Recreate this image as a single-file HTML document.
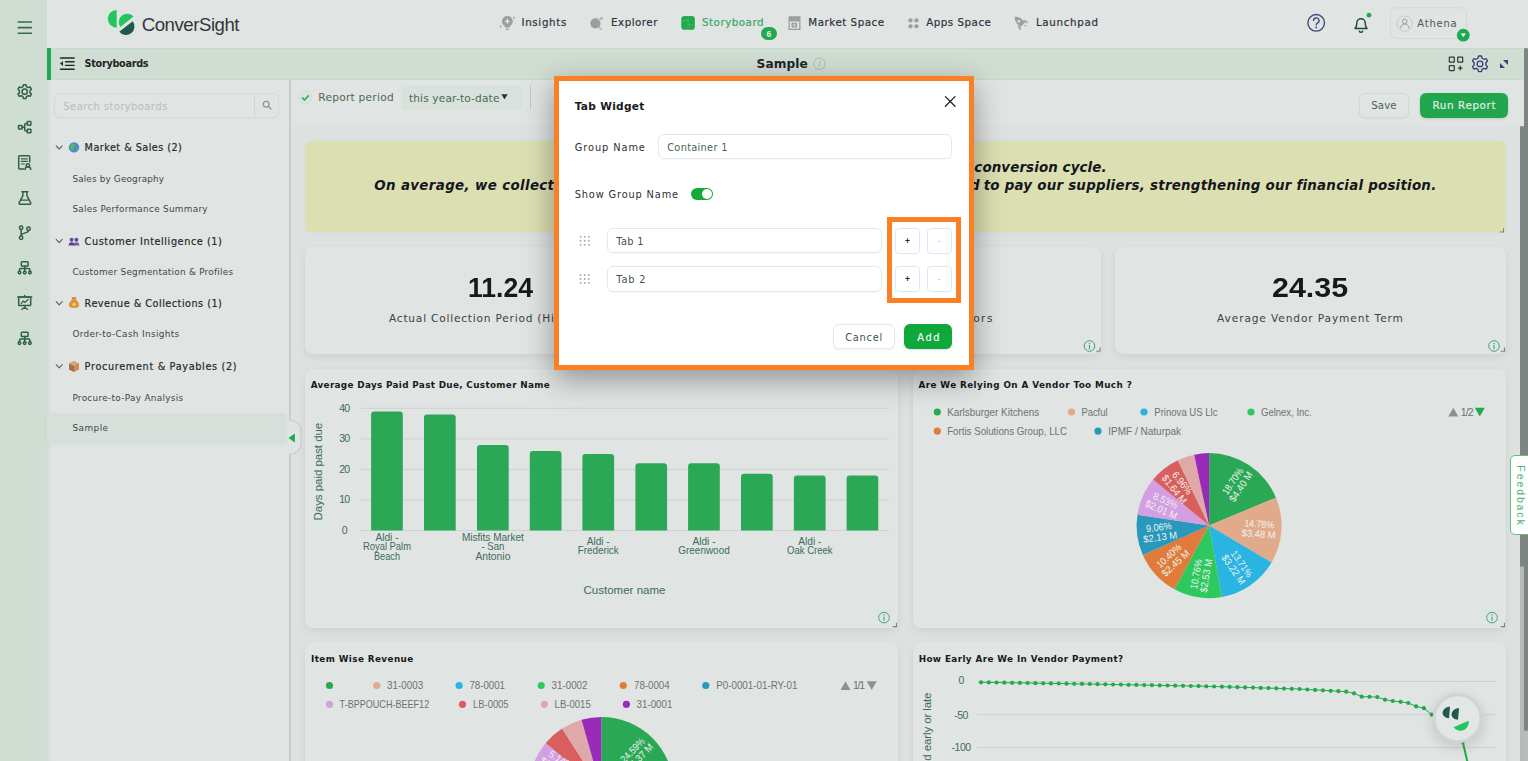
<!DOCTYPE html>
<html lang="en">
<head>
<meta charset="utf-8">
<title>ConverSight - Storyboard - Sample</title>
<style>
*{box-sizing:border-box;margin:0;padding:0}
html,body{width:1528px;height:761px;overflow:hidden}
body{position:relative;background:#dde1df;font-family:"Liberation Sans",sans-serif;color:#2d3136;font-size:12px}
.a{position:absolute}
.t{position:absolute;white-space:pre;line-height:1;height:1em}
svg{position:absolute;overflow:visible}
#rail{left:0;top:0;width:47px;height:761px;background:#cfddd3}
#nav{left:47px;top:0;width:1481px;height:48px;background:#e0e4e2}
#sub{left:47px;top:48px;width:1481px;height:32px;background:#d0ddd3;border-top:1px solid #c6d9ca;border-bottom:1px solid #c6d9ca}
#subacc{left:47px;top:48px;width:4px;height:32px;background:#22a94f}
#side{left:47px;top:80px;width:243px;height:681px;background:#e0e4e2;box-shadow:inset 5px 0 5px -4px rgba(0,0,0,.07)}
#tool{left:290px;top:80px;width:1234px;height:46px;background:#e0e4e2}
#content{left:290px;top:126px;width:1230px;height:635px;background:#dde1df}
.card{position:absolute;background:#e0e4e2;border-radius:8px;box-shadow:0 3px 9px rgba(0,0,0,.075)}
.btn{position:absolute;border-radius:6px}
</style>
</head>
<body>
<!-- ===== frame ===== -->
<div id="rail" class="a"></div>
<div id="nav" class="a"></div>
<div id="sub" class="a"></div>
<div id="subacc" class="a"></div>
<div id="side" class="a"></div>
<div id="tool" class="a"></div>
<div id="content" class="a"></div>

<!-- ===== left rail icons ===== -->
<svg style="left:0;top:0" width="47" height="400" viewBox="0 0 47 400" fill="none" stroke="#2f6141" stroke-width="1.5" stroke-linecap="round" stroke-linejoin="round">
  <!-- hamburger -->
  <path d="M18.2 22h13.2M18.2 27.6h13.2M18.2 33.2h13.2" stroke="#3b6a4b" stroke-width="1.6"/>
  <!-- gear -->
  <g transform="translate(24.7 91.7)">
    <circle r="2.6"/>
    <path d="M-1.3-7h2.6l.5 2 1.6.9 2-.6 1.3 2.2-1.5 1.5v1.9l1.5 1.5-1.3 2.2-2-.6-1.6.9-.5 2h-2.6l-.5-2-1.6-.9-2 .6-1.3-2.2 1.5-1.5v-1.9l-1.5-1.5 1.3-2.2 2 .6 1.6-.9z"/>
  </g>
  <!-- org / flow -->
  <g transform="translate(24.7 127.2)">
    <rect x="-6.2" y="-1.8" width="3.6" height="3.6" rx=".6"/>
    <rect x="2.6" y="-5.6" width="3.6" height="3.6" rx=".6"/>
    <rect x="2.6" y="2" width="3.6" height="3.6" rx=".6"/>
    <path d="M-2.6 0h2.6M2.6-3.8h-1.3a1.3 1.3 0 0 0-1.3 1.3v5a1.3 1.3 0 0 0 1.3 1.3h1.3"/>
  </g>
  <!-- document with person -->
  <g transform="translate(24.7 162.4)">
    <path d="M-1 6.6h-4.2a.8.8 0 0 1-.8-.8v-11.6a.8.8 0 0 1 .8-.8h9.4a.8.8 0 0 1 .8.8v5.4"/>
    <path d="M-3.4-3.6h6M-3.4-1h6M-3.4 1.6h3" stroke-width="1.2"/>
    <circle cx="3.2" cy="3" r="1.7"/>
    <path d="M.4 7.2a2.8 2.8 0 0 1 5.6 0"/>
  </g>
  <!-- flask -->
  <g transform="translate(24.9 197.9)">
    <path d="M-3-6.2h6M-2-6.2v4l-3.8 7.2a.9.9 0 0 0 .8 1.3h10a.9.9 0 0 0 .8-1.3l-3.8-7.200v-4"/>
    <path d="M-3.6 2.200h7.2" stroke-width="1.200"/>
  </g>
  <!-- git branch -->
  <g transform="translate(24.700 232.700)">
    <circle cx="-3.6" cy="-5" r="1.700"/><circle cx="-3.6" cy="5" r="1.700"/><circle cx="3.800" cy="-4" r="1.700"/>
    <path d="M-3.600-3.300v6.600M3.800-2.300c0 3-7.400 2-7.400 5.600"/>
  </g>
  <!-- sitemap -->
  <g id="sm" transform="translate(24.700 267.800)">
    <rect x="-3.400" y="-6" width="6.800" height="4.200" rx=".8"/>
    <path d="M0-1.800v2.600M-5.200 3.400v-1.400a1.200 1.200 0 0 1 1.200-1.200h8a1.200 1.200 0 0 1 1.200 1.200v1.400M0 .8v2.600"/>
    <circle cx="-5.200" cy="4.800" r="1.300"/><circle cx="0" cy="4.800" r="1.300"/><circle cx="5.200" cy="4.800" r="1.300"/>
  </g>
  <!-- presentation -->
  <g transform="translate(24.700 302.800)">
    <path d="M-7-5.800h14M0-7.400v1.600"/>
    <rect x="-6" y="-5.800" width="12" height="8.600" rx=".8"/>
    <path d="M0 2.800v1.600M-3 6.600l3-2.200 3 2.200M-3.400.600l2.200-2.400 1.800 1.400 2.800-3" stroke-width="1.300"/>
  </g>
  <!-- sitemap 2 -->
  <g transform="translate(24.700 338.300)">
    <rect x="-3.400" y="-6" width="6.800" height="4.200" rx=".8"/>
    <path d="M0-1.800v2.600M-5.200 3.400v-1.400a1.200 1.200 0 0 1 1.200-1.200h8a1.200 1.200 0 0 1 1.200 1.200v1.400M0 .8v2.600"/>
    <circle cx="-5.200" cy="4.800" r="1.300"/><circle cx="0" cy="4.800" r="1.300"/><circle cx="5.200" cy="4.800" r="1.300"/>
  </g>
</svg>

<!-- ===== top navigation ===== -->
<svg style="left:100px;top:0" width="150" height="48" viewBox="100 0 150 48">
  <!-- ConverSight mark -->
  <path d="M116.700 10a8.850 8.850 0 0 0 0 17.700z" fill="#22c55e"/>
  <path d="M133.500 16.500A8.450 8.450 0 0 0 120.300 27z" fill="#22c55e"/>
  <path d="M132.700 21.200A8.500 8.500 0 0 1 119.300 31.700z" fill="#1f5a4c"/>
</svg>
<span class="t" style="left:141.76px;top:15.80px;font-size:18.600px;color:#33363a;letter-spacing:-0.454px">ConverSight</span>

<svg style="left:480px;top:0" width="640" height="48" viewBox="480 0 640 48" fill="none">
  <!-- insights bulb -->
  <g fill="#9b9f9d">
    <path d="M507.350 16a5.350 5.350 0 0 0-2.900 9.850l.5 1.300h4.800l.5-1.300a5.350 5.350 0 0 0-2.900-9.850z"/>
    <rect x="505.300" y="27.200" width="4.100" height="1.300" rx=".4" opacity=".55"/>
    <rect x="505.700" y="29" width="3.300" height="1" rx=".5"/>
    <circle cx="514" cy="17.800" r=".95"/><circle cx="500.700" cy="26.500" r=".95"/>
  </g>
  <path d="M507.350 18.300l.85 2.250 2.250.85-2.250.85-.85 2.250-.85-2.250-2.250-.85 2.250-.85z" fill="#e6e9e7"/>
  <!-- explorer -->
  <circle cx="595.400" cy="23.300" r="5.100" fill="#9b9f9d"/>
  <path d="M599 27l2.300 2.400" stroke="#a9adab" stroke-width="1.300" stroke-linecap="round"/>
  <path d="M601.300 16.600v3.900M599.350 18.550h3.900" stroke="#a3a7a5" stroke-width=".9"/>
  <!-- storyboard -->
  <rect x="681.300" y="16.100" width="13.600" height="13.750" rx="3.400" fill="#23a94d"/>
  <path d="M688.200 16.100v13.750M681.300 20.600h6.900M688.200 24.900h6.700" stroke="#58c079" stroke-width=".8" opacity=".75"/>
  <!-- market space -->
  <path d="M788.500 17.100a.8.800 0 0 1 .8-.8h10.400a.8.800 0 0 1 .8.800v4.400h-12z" fill="#9b9f9d"/>
  <path d="M789.150 21.500v7.900h10.700v-7.900" stroke="#9b9f9d" stroke-width="1.300"/>
  <rect x="791.500" y="22.700" width="5.600" height="4.800" rx=".4" fill="#9b9f9d"/>
  <path d="M794.300 23.700v2.800M792.900 25.100h2.800" stroke="#e0e4e2" stroke-width=".8"/>
  <!-- apps space -->
  <g fill="#9b9f9d"><circle cx="910.500" cy="20.400" r="2.150"/><circle cx="916.400" cy="20.400" r="2.150"/><circle cx="910.500" cy="26.300" r="2.150"/><circle cx="916.400" cy="26.300" r="2.150"/></g>
  <!-- launchpad rocket -->
  <g transform="translate(1019.500 21.500) rotate(-135)" fill="#9b9f9d">
    <path d="M6.600 0C4.400-3.300-.5-3.900-4.600-2.900v5.800C-.5 3.900 4.400 3.300 6.600 0z"/>
    <path d="M-1.600-4.300l-4.600-1.600-.6 1.700 3.600 1.300zM-1.600 4.300l-4.600 1.600-.6-1.700 3.600-1.300z" opacity=".9"/>
    <circle cx="-7" cy="1.200" r=".8" opacity=".9"/>
  </g>
  <circle cx="1018.900" cy="21.300" r="1.250" fill="#e6e9e7"/>
</svg>
<span class="t" style="left:521.49px;top:17.40px;font-size:10.300px;color:#30333c;font-family:'DejaVu Sans', 'Liberation Sans', sans-serif;letter-spacing:0.651px;-webkit-text-stroke:.2px">Insights</span>
<span class="t" style="left:611.09px;top:17.40px;font-size:10.300px;color:#30333c;font-family:'DejaVu Sans', 'Liberation Sans', sans-serif;letter-spacing:0.493px;-webkit-text-stroke:.2px">Explorer</span>
<span class="t" style="left:701.99px;top:17.40px;font-size:10.300px;color:#3aa862;font-family:'DejaVu Sans', 'Liberation Sans', sans-serif;letter-spacing:0.51px;-webkit-text-stroke:.2px">Storyboard</span>
<div class="a" style="left:760.800px;top:27.200px;width:16px;height:12.600px;border-radius:7px;background:#21a94e"></div>
<span class="t" style="left:768.90px;transform:translateX(-50%);top:29.80px;font-size:8.500px;font-weight:700;color:#e9f5ec">6</span>
<span class="t" style="left:808.29px;top:17.40px;font-size:10.300px;color:#30333c;font-family:'DejaVu Sans', 'Liberation Sans', sans-serif;letter-spacing:0.525px;-webkit-text-stroke:.2px">Market Space</span>
<span class="t" style="left:926.19px;top:17.40px;font-size:10.300px;color:#30333c;font-family:'DejaVu Sans', 'Liberation Sans', sans-serif;letter-spacing:0.509px;-webkit-text-stroke:.2px">Apps Space</span>
<span class="t" style="left:1035.89px;top:17.40px;font-size:10.300px;color:#30333c;font-family:'DejaVu Sans', 'Liberation Sans', sans-serif;letter-spacing:0.694px;-webkit-text-stroke:.2px">Launchpad</span>

<svg style="left:1300px;top:0" width="180" height="48" viewBox="1300 0 180 48" fill="none">
  <!-- help -->
  <circle cx="1316.200" cy="22.800" r="8.300" stroke="#44487c" stroke-width="1.400"/>
  <path d="M1313.600 20.600a2.700 2.700 0 1 1 3.800 2.500c-.8.400-1.200.9-1.200 1.800" stroke="#44487c" stroke-width="1.400" stroke-linecap="round"/>
  <circle cx="1316.200" cy="27.500" r=".9" fill="#44487c"/>
  <!-- bell -->
  <path d="M1355 28.400c1.400-1.200 1.800-2.600 1.800-5.400a4.200 4.200 0 0 1 8.400 0c0 2.800.4 4.200 1.800 5.400z" stroke="#1f4a3c" stroke-width="1.500" stroke-linejoin="round"/>
  <path d="M1359.400 31.200a1.700 1.700 0 0 0 3.200 0" stroke="#1f4a3c" stroke-width="1.500" stroke-linecap="round"/>
  <circle cx="1369" cy="15.200" r="2.400" fill="#21a94e"/>
  <!-- user pill -->
  <rect x="1390.500" y="7.700" width="76" height="30.800" rx="6" fill="#e0e4e2" stroke="#d4d8d6"/>
  <circle cx="1404.700" cy="23.600" r="7.600" stroke="#c3c7c5" stroke-width=".9"/>
  <circle cx="1404.700" cy="21.400" r="2.300" stroke="#8f9391" stroke-width=".9"/>
  <path d="M1400.500 28.200a4.200 4.200 0 0 1 8.400 0" stroke="#8f9391" stroke-width=".9"/>
  <circle cx="1463.300" cy="35.200" r="6.400" fill="#21a94e"/>
  <path d="M1460.700 33.600h5.200l-2.600 3.400z" fill="#fff"/>
</svg>
<span class="t" style="left:1417.30px;top:18.90px;font-size:10px;color:#5a5350;font-family:'DejaVu Sans', 'Liberation Sans', sans-serif;letter-spacing:0.771px">Athena</span>

<!-- ===== sub header ===== -->
<svg style="left:55px;top:48px" width="30" height="32" viewBox="55 48 30 32" fill="none" stroke="#23262b" stroke-width="1.400" stroke-linecap="round">
  <path d="M60.500 58h13.600M65.600 61.800h8.500M65.600 65.400h8.500M60.500 69.200h13.600"/>
  <path d="M63 61.200v4.800l-3-2.400z" fill="#23262b" stroke="none"/>
</svg>
<span class="t" style="left:84.61px;top:59.10px;font-size:9.700px;font-weight:700;color:#1f2226;font-family:'DejaVu Sans', 'Liberation Sans', sans-serif;letter-spacing:-0.299px">Storyboards</span>
<span class="t" style="left:756.51px;top:57.90px;font-size:12.200px;font-weight:700;color:#1f2226;font-family:'DejaVu Sans', 'Liberation Sans', sans-serif;letter-spacing:0.1px">Sample</span>
<svg style="left:810px;top:54px" width="20" height="20" viewBox="810 54 20 20" fill="none">
  <circle cx="819.400" cy="63.900" r="5.700" stroke="#b4b9b6" stroke-width="1"/>
  <path d="M819.600 62.600l-.5 4.200" stroke="#b4b9b6" stroke-width="1" stroke-linecap="round"/><circle cx="819.900" cy="60.800" r=".6" fill="#b4b9b6"/>
</svg>
<svg style="left:1440px;top:50px" width="80" height="28" viewBox="1440 50 80 28" fill="none">
  <!-- add widget -->
  <g stroke="#33363b" stroke-width="1.200">
    <rect x="1449.300" y="57.200" width="5" height="5" rx=".5"/><rect x="1457.700" y="57.200" width="5" height="5" rx=".5"/><rect x="1449.300" y="65.600" width="5" height="5" rx=".5"/>
    <path d="M1460.200 65.800v4.600M1457.900 68.100h4.600"/>
  </g>
  <!-- settings gear -->
  <g transform="translate(1480 63.900) scale(1.130)" stroke="#3b3f78" stroke-width="1.150" stroke-linejoin="round">
    <circle r="2.500"/>
    <path d="M-1.300-7h2.600l.5 2 1.600.9 2-.6 1.300 2.200-1.500 1.500v1.900l1.500 1.500-1.300 2.200-2-.6-1.600.9-.5 2h-2.600l-.5-2-1.600-.9-2 .6-1.300-2.200 1.500-1.500v-1.900l-1.500-1.500 1.300-2.200 2 .6 1.600-.9z"/>
  </g>
  <!-- collapse -->
  <path d="M1503 60h5v5zM1500 63v5h5z" fill="#3b3f78"/>
</svg>

<!-- ===== storyboard list ===== -->
<div class="a" style="left:53.700px;top:93px;width:225.600px;height:24.600px;border:1px solid #d5d9d7;border-radius:6px;background:#e0e4e2;box-shadow:0 1px 2px rgba(0,0,0,.025)"></div>
<div class="a" style="left:254px;top:93.500px;width:1px;height:23.600px;background:#d2d6d4"></div>
<span class="t" style="left:63.35px;top:101.90px;font-size:10px;color:#b9bdbb;font-family:'DejaVu Sans', 'Liberation Sans', sans-serif;letter-spacing:0.406px">Search storyboards</span>
<svg style="left:260px;top:98px" width="14" height="14" viewBox="260 98 14 14" fill="none" stroke="#8d9290" stroke-width="1.200" stroke-linecap="round"><circle cx="266.200" cy="104.200" r="2.900"/><path d="M268.400 106.400l2.600 2.600"/></svg>

<div class="a" style="left:47px;top:413.300px;width:239.700px;height:30px;background:#d6dfda;border-radius:0 4px 4px 0;box-shadow:0 2px 5px rgba(0,0,0,.035)"></div>

<svg style="left:52px;top:140px" width="32" height="240" viewBox="52 140 32 240" fill="none">
  <g stroke="#4d6a5b" stroke-width="1.100" stroke-linecap="round" stroke-linejoin="round">
    <path d="M56.200 145.800l3 3.200 3-3.200"/><path d="M56.200 239.400l3 3.200 3-3.200"/><path d="M56.200 301.600l3 3.200 3-3.200"/><path d="M56.200 364.600l3 3.200 3-3.200"/>
  </g>
  <!-- globe -->
  <circle cx="74" cy="147.400" r="5.200" fill="#4f86d6"/>
  <path d="M71 144.200c1.600-.8 3.600-.6 4.200.6.600 1.200-.8 2-1.400 3-.6 1.200-.2 2.600-1.400 2.800-1.200.2-1.800-1.400-2.200-2.600-.4-1.400-.2-3 .8-3.800z" fill="#59b567"/>
  <path d="M76.600 147.600c.8-.2 1.800.4 1.800 1.400 0 1-1 2.200-1.800 2.400-.4-.8-.6-3.200 0-3.800z" fill="#59b567"/>
  <!-- people -->
  <circle cx="71.600" cy="239.800" r="2" fill="#6b4aa3"/><circle cx="76.400" cy="239.800" r="2" fill="#6b4aa3"/>
  <path d="M68.600 245.600c0-2.200 1.300-3.400 3-3.400s3 1.200 3 3.400z" fill="#5a3c96"/><path d="M73.400 245.600c0-2.200 1.300-3.400 3-3.400s3 1.200 3 3.400z" fill="#7a58b4"/>
  <!-- money bag -->
  <path d="M72.400 299.400l-1-2.200h5.200l-1 2.200z" fill="#c7833a"/>
  <path d="M72.200 299.600h3.600c2 1.600 3.200 3.600 3.200 5.600 0 1.800-1.600 2.800-5 2.800s-5-1-5-2.800c0-2 1.200-4 3.200-5.600z" fill="#d9913f"/>
  <circle cx="74" cy="304.200" r="1.700" fill="#f3d36b"/>
  <!-- package -->
  <path d="M74 361l5 2.400v6l-5 2.600-5-2.600v-6z" fill="#c98d5e"/>
  <path d="M74 366v6l-5-2.600v-6z" fill="#a8704a"/><path d="M69 363.400l5 2.600 5-2.600-5-2.400z" fill="#dba577"/>
</svg>

<span class="t" style="left:84.61px;top:142.90px;font-size:9.700px;color:#25282c;font-family:'DejaVu Sans', 'Liberation Sans', sans-serif;letter-spacing:0.451px;-webkit-text-stroke:.18px">Market &amp; Sales (2)</span>
<span class="t" style="left:72.39px;top:174.60px;font-size:8.900px;color:#43474b;font-family:'DejaVu Sans', 'Liberation Sans', sans-serif;letter-spacing:0.15px">Sales by Geography</span>
<span class="t" style="left:72.39px;top:205.00px;font-size:8.900px;color:#43474b;font-family:'DejaVu Sans', 'Liberation Sans', sans-serif;letter-spacing:0.284px">Sales Performance Summary</span>
<span class="t" style="left:84.61px;top:236.50px;font-size:9.700px;color:#25282c;font-family:'DejaVu Sans', 'Liberation Sans', sans-serif;letter-spacing:0.582px;-webkit-text-stroke:.18px">Customer Intelligence (1)</span>
<span class="t" style="left:72.39px;top:268.00px;font-size:8.900px;color:#43474b;font-family:'DejaVu Sans', 'Liberation Sans', sans-serif;letter-spacing:0.246px">Customer Segmentation &amp; Profiles</span>
<span class="t" style="left:84.61px;top:298.70px;font-size:9.700px;color:#25282c;font-family:'DejaVu Sans', 'Liberation Sans', sans-serif;letter-spacing:0.484px;-webkit-text-stroke:.18px">Revenue &amp; Collections (1)</span>
<span class="t" style="left:72.39px;top:330.30px;font-size:8.900px;color:#43474b;font-family:'DejaVu Sans', 'Liberation Sans', sans-serif;letter-spacing:0.342px">Order-to-Cash Insights</span>
<span class="t" style="left:84.61px;top:361.70px;font-size:9.700px;color:#25282c;font-family:'DejaVu Sans', 'Liberation Sans', sans-serif;letter-spacing:0.67px;-webkit-text-stroke:.18px">Procurement &amp; Payables (2)</span>
<span class="t" style="left:72.39px;top:393.50px;font-size:8.900px;color:#43474b;font-family:'DejaVu Sans', 'Liberation Sans', sans-serif;letter-spacing:0.304px">Procure-to-Pay Analysis</span>
<span class="t" style="left:72.39px;top:423.70px;font-size:8.900px;color:#43474b;font-family:'DejaVu Sans', 'Liberation Sans', sans-serif;letter-spacing:0.486px">Sample</span>

<!-- sidebar divider + collapse handle -->
<div class="a" style="left:289px;top:80px;width:2px;height:681px;background:#c9cdcb"></div>
<svg style="left:286px;top:415px" width="20" height="46" viewBox="286 415 20 46" fill="none">
  <path d="M290.500 420c6 1 10.600 5 10.600 11v12.500c0 6-4.600 10-10.600 11z" fill="#e0e4e2" stroke="#c8cccb" stroke-width="1.200"/>
  <path d="M290 420.600v33.400" stroke="#e0e4e2" stroke-width="2.400"/>
  <path d="M294.900 433.400v9.200l-6.400-4.600z" fill="#21a94e"/>
</svg>

<!-- ===== toolbar ===== -->
<svg style="left:296px;top:88px" width="20" height="20" viewBox="296 88 20 20" fill="none">
  <rect x="299.200" y="91.200" width="12.400" height="12.400" rx="4.200" fill="#d9e3dc" stroke="#cde0d2" stroke-width=".8"/>
  <path d="M302.400 97.800l2.100 2.200 3.900-4.300" stroke="#21a94e" stroke-width="1.500" stroke-linecap="round" stroke-linejoin="round"/>
</svg>
<span class="t" style="left:318.28px;top:91.70px;font-size:10.600px;color:#4c6a57;font-family:'DejaVu Sans', 'Liberation Sans', sans-serif;letter-spacing:0.259px">Report period</span>
<div class="a" style="left:401px;top:84.800px;width:120.800px;height:25px;background:#d8e1dc;border-radius:4px"></div>
<span class="t" style="left:408.88px;top:92.80px;font-size:10.600px;color:#4c6a57;font-family:'DejaVu Sans', 'Liberation Sans', sans-serif;letter-spacing:0.157px">this year-to-date</span>
<svg style="left:500px;top:92px" width="10" height="10" viewBox="500 92 10 10"><path d="M501.300 94.200h6.400l-3.200 5z" fill="#2b2e33"/></svg>
<div class="a" style="left:530.300px;top:85px;width:1px;height:24px;background:#c3c7c5"></div>
<div class="btn" style="left:1359px;top:93.200px;width:50.300px;height:24.600px;border:1px solid #d3d7d5;background:#e0e4e2;box-shadow:0 1px 2px rgba(0,0,0,.04)"></div>
<span class="t" style="left:1371.19px;top:101.40px;font-size:10.200px;color:#4e6354;font-family:'DejaVu Sans', 'Liberation Sans', sans-serif;letter-spacing:0.133px">Save</span>
<div class="btn" style="left:1420px;top:93px;width:88px;height:25px;background:#21a64e;box-shadow:0 1px 3px rgba(0,0,0,.12)"></div>
<span class="t" style="left:1432.38px;top:100.40px;font-size:10.400px;color:#e4efe7;font-family:'DejaVu Sans', 'Liberation Sans', sans-serif;letter-spacing:0.607px;-webkit-text-stroke:.15px">Run Report</span>

<!-- ===== dashboard content ===== -->
<div class="card" style="left:305px;top:140.600px;width:1201px;height:91.800px;background:#dcdfb1;border-radius:6px;box-shadow:0 1px 4px rgba(0,0,0,.03)"></div>
<span class="t" style="left:374.26px;top:178.80px;font-size:13.400px;font-weight:700;font-style:italic;color:#14171c;font-family:'DejaVu Sans', 'Liberation Sans', sans-serif;letter-spacing:0.354px">On average, we collect</span>
<span class="t" style="left:558.96px;top:178.80px;font-size:13.400px;font-weight:700;font-style:italic;color:#14171c;font-family:'DejaVu Sans', 'Liberation Sans', sans-serif;letter-spacing:1.421px">payments from customers sooner than we need</span>
<span class="t" style="left:983.66px;top:178.80px;font-size:13.400px;font-weight:700;font-style:italic;color:#14171c;font-family:'DejaVu Sans', 'Liberation Sans', sans-serif;letter-spacing:0.239px">to pay our suppliers, strengthening our financial position.</span>
<span class="t" style="left:704.46px;top:160.80px;font-size:13.400px;font-weight:700;font-style:italic;color:#14171c;font-family:'DejaVu Sans', 'Liberation Sans', sans-serif;letter-spacing:4.2px">We run a negative cash</span>
<span class="t" style="left:974.36px;top:160.80px;font-size:13.400px;font-weight:700;font-style:italic;color:#14171c;font-family:'DejaVu Sans', 'Liberation Sans', sans-serif;letter-spacing:0.11px">conversion cycle.</span>

<div class="card" style="left:305px;top:247px;width:391px;height:107px"></div>
<div class="card" style="left:710px;top:247px;width:391px;height:107px"></div>
<div class="card" style="left:1115px;top:247px;width:391px;height:107px"></div>
<span class="t" style="left:467.52px;top:275.30px;font-size:27px;font-weight:700;color:#17191c;transform:scaleX(0.9846);transform-origin:0 0">11.24</span>
<span class="t" style="left:388.98px;top:312.90px;font-size:10.600px;color:#3d4145;font-family:'DejaVu Sans', 'Liberation Sans', sans-serif;letter-spacing:0.785px">Actual Collection Period (Hi</span>
<span class="t" style="left:554.78px;top:312.90px;font-size:10.600px;color:#3d4145;font-family:'DejaVu Sans', 'Liberation Sans', sans-serif;letter-spacing:1.724px">storical)</span>
<span class="t" style="left:880.92px;top:275.30px;font-size:27px;font-weight:700;color:#17191c;transform:scaleX(1.6361);transform-origin:0 0">46</span>
<span class="t" style="left:818.58px;top:312.90px;font-size:10.600px;color:#3d4145;font-family:'DejaVu Sans', 'Liberation Sans', sans-serif;letter-spacing:1.461px">Number Of Active Vendors</span>
<span class="t" style="left:1271.92px;top:275.30px;font-size:27px;font-weight:700;color:#17191c;transform:scaleX(1.127);transform-origin:0 0">24.35</span>
<span class="t" style="left:1217.08px;top:312.90px;font-size:10.600px;color:#3d4145;font-family:'DejaVu Sans', 'Liberation Sans', sans-serif;letter-spacing:0.883px">Average Vendor Payment Term</span>

<div class="card" style="left:305px;top:368.600px;width:593.400px;height:259.400px"></div>
<div class="card" style="left:912.600px;top:368.600px;width:593.400px;height:259.400px"></div>
<div class="card" style="left:305px;top:642.200px;width:593.400px;height:160px"></div>
<div class="card" style="left:912.600px;top:642.200px;width:593.400px;height:160px"></div>
<span class="t" style="left:310.65px;top:381.20px;font-size:8.800px;font-weight:700;color:#17191c;font-family:'DejaVu Sans', 'Liberation Sans', sans-serif;letter-spacing:0.351px">Average Days Paid Past Due, Customer Name</span>
<span class="t" style="left:918.55px;top:381.20px;font-size:8.800px;font-weight:700;color:#17191c;font-family:'DejaVu Sans', 'Liberation Sans', sans-serif;letter-spacing:0.413px">Are We Relying On A Vendor Too Much ?</span>
<span class="t" style="left:310.95px;top:654.80px;font-size:8.800px;font-weight:700;color:#17191c;font-family:'DejaVu Sans', 'Liberation Sans', sans-serif;letter-spacing:0.419px">Item Wise Revenue</span>
<span class="t" style="left:918.65px;top:654.80px;font-size:8.800px;font-weight:700;color:#17191c;font-family:'DejaVu Sans', 'Liberation Sans', sans-serif;letter-spacing:0.412px">How Early Are We In Vendor Payment?</span>
<svg style="left:0;top:0" width="1528" height="761" viewBox="0 0 1528 761" font-family="'Liberation Sans',sans-serif">
<g stroke="#ced2d0" stroke-width="1">
<path d="M360.300 530.5H889"/>
<path d="M360.300 499.9H889"/>
<path d="M360.300 469.4H889"/>
<path d="M360.300 438.9H889"/>
<path d="M360.300 408.3H889"/>
</g>
<g fill="#3d6b5e" font-size="10.500" text-anchor="middle">
<text x="344.600" y="533.9">0</text>
<text x="344.600" y="503.3" textLength="10.900">10</text>
<text x="344.600" y="472.8" textLength="10.900">20</text>
<text x="344.600" y="442.2" textLength="10.900">30</text>
<text x="344.600" y="411.7" textLength="10.900">40</text>
</g>
<text transform="translate(321.600 471.600) rotate(-90)" text-anchor="middle" font-size="11.500" textLength="97.700" fill="#3d6b5e">Days paid past due</text>
<g fill="#2ba856">
<path d="M371.1 530.5V414.6a3.2 3.2 0 0 1 3.2-3.2H399.6a3.2 3.2 0 0 1 3.2 3.2V530.5z"/>
<path d="M424.0 530.5V417.6a3.2 3.2 0 0 1 3.2-3.2H452.5a3.2 3.2 0 0 1 3.2 3.2V530.5z"/>
<path d="M477.0 530.5V448.2a3.2 3.2 0 0 1 3.2-3.2H505.5a3.2 3.2 0 0 1 3.2 3.2V530.5z"/>
<path d="M529.8 530.5V454.3a3.2 3.2 0 0 1 3.2-3.2H558.3a3.2 3.2 0 0 1 3.2 3.2V530.5z"/>
<path d="M582.4 530.5V457.3a3.2 3.2 0 0 1 3.2-3.2H610.9a3.2 3.2 0 0 1 3.2 3.2V530.5z"/>
<path d="M635.4 530.5V466.5a3.2 3.2 0 0 1 3.2-3.2H663.9a3.2 3.2 0 0 1 3.2 3.2V530.5z"/>
<path d="M688.1 530.5V466.5a3.2 3.2 0 0 1 3.2-3.2H716.6a3.2 3.2 0 0 1 3.2 3.2V530.5z"/>
<path d="M741.0 530.5V476.9a3.2 3.2 0 0 1 3.2-3.2H769.5a3.2 3.2 0 0 1 3.2 3.2V530.5z"/>
<path d="M793.9 530.5V478.7a3.2 3.2 0 0 1 3.2-3.2H822.4a3.2 3.2 0 0 1 3.2 3.2V530.5z"/>
<path d="M846.6 530.5V478.7a3.2 3.2 0 0 1 3.2-3.2H875.1a3.2 3.2 0 0 1 3.2 3.2V530.5z"/>
</g>
<g fill="#3d6b5e" font-size="10.500" text-anchor="middle">
<text x="387.0" y="540.5" textLength="23.0" lengthAdjust="spacingAndGlyphs">Aldi -</text>
<text x="387.0" y="550.0" textLength="48.0" lengthAdjust="spacingAndGlyphs">Royal Palm</text>
<text x="387.0" y="559.5" textLength="26.0" lengthAdjust="spacingAndGlyphs">Beach</text>
<text x="492.9" y="540.5" textLength="62.0" lengthAdjust="spacingAndGlyphs">Misfits Market</text>
<text x="492.9" y="550.0" textLength="23.0" lengthAdjust="spacingAndGlyphs">- San</text>
<text x="492.9" y="559.5" textLength="35.0" lengthAdjust="spacingAndGlyphs">Antonio</text>
<text x="598.2" y="544.5" textLength="23.0" lengthAdjust="spacingAndGlyphs">Aldi -</text>
<text x="598.2" y="554.0" textLength="41.0" lengthAdjust="spacingAndGlyphs">Frederick</text>
<text x="704.0" y="544.5" textLength="23.0" lengthAdjust="spacingAndGlyphs">Aldi -</text>
<text x="704.0" y="554.0" textLength="51.5" lengthAdjust="spacingAndGlyphs">Greenwood</text>
<text x="809.8" y="544.5" textLength="23.0" lengthAdjust="spacingAndGlyphs">Aldi -</text>
<text x="809.8" y="554.0" textLength="45.5" lengthAdjust="spacingAndGlyphs">Oak Creek</text>
</g>
<text x="624.500" y="594" text-anchor="middle" font-size="11.500" textLength="82" fill="#3d6b5e">Customer name</text>
<path d="M1209.1 525.6L1209.10 453.10A72.5 72.5 0 0 1 1275.99 497.65z" fill="#2ba856"/>
<path d="M1209.1 525.6L1275.99 497.65A72.5 72.5 0 0 1 1271.55 562.43z" fill="#e1ab8b"/>
<path d="M1209.1 525.6L1271.55 562.43A72.5 72.5 0 0 1 1221.83 596.97z" fill="#2ab4e2"/>
<path d="M1209.1 525.6L1221.83 596.97A72.5 72.5 0 0 1 1174.37 589.24z" fill="#2ec95e"/>
<path d="M1209.1 525.6L1174.37 589.24A72.5 72.5 0 0 1 1142.84 555.02z" fill="#e07b3c"/>
<path d="M1209.1 525.6L1142.84 555.02A72.5 72.5 0 0 1 1137.43 514.66z" fill="#2898bd"/>
<path d="M1209.1 525.6L1137.43 514.66A72.5 72.5 0 0 1 1153.06 479.60z" fill="#d49ee2"/>
<path d="M1209.1 525.6L1153.06 479.60A72.5 72.5 0 0 1 1177.82 460.20z" fill="#d95e5e"/>
<path d="M1209.1 525.6L1177.82 460.20A72.5 72.5 0 0 1 1194.17 454.65z" fill="#e0a9a9"/>
<path d="M1209.1 525.6L1194.17 454.65A72.5 72.5 0 0 1 1209.10 453.10z" fill="#9a2bb9"/>
<g fill="#eef3ee" font-size="10" text-anchor="middle">
<g transform="translate(1236.8 484.0) rotate(-56.3)"><text y="-1.600" textLength="30.0" lengthAdjust="spacingAndGlyphs">18.70%</text><text y="8.400" textLength="34" lengthAdjust="spacingAndGlyphs">$4.40 M</text></g>
<g transform="translate(1259.0 529.0) rotate(3.9)"><text y="-1.600" textLength="30.0" lengthAdjust="spacingAndGlyphs">14.78%</text><text y="8.400" textLength="34" lengthAdjust="spacingAndGlyphs">$3.48 M</text></g>
<g transform="translate(1237.6 566.7) rotate(55.2)"><text y="-1.600" textLength="30.0" lengthAdjust="spacingAndGlyphs">13.71%</text><text y="8.400" textLength="34" lengthAdjust="spacingAndGlyphs">$3.22 M</text></g>
<g transform="translate(1201.1 574.9) rotate(-80.7)"><text y="-1.600" textLength="30.0" lengthAdjust="spacingAndGlyphs">10.76%</text><text y="8.400" textLength="34" lengthAdjust="spacingAndGlyphs">$2.53 M</text></g>
<g transform="translate(1172.3 559.5) rotate(-42.7)"><text y="-1.600" textLength="30.0" lengthAdjust="spacingAndGlyphs">10.40%</text><text y="8.400" textLength="34" lengthAdjust="spacingAndGlyphs">$2.45 M</text></g>
<g transform="translate(1159.5 532.2) rotate(-7.6)"><text y="-1.600" textLength="25.8" lengthAdjust="spacingAndGlyphs">9.06%</text><text y="8.400" textLength="34" lengthAdjust="spacingAndGlyphs">$2.13 M</text></g>
<g transform="translate(1163.4 505.2) rotate(24.0)"><text y="-1.600" textLength="25.8" lengthAdjust="spacingAndGlyphs">8.53%</text><text y="8.400" textLength="34" lengthAdjust="spacingAndGlyphs">$2.01 M</text></g>
<g transform="translate(1178.3 486.2) rotate(51.9)"><text y="-1.600" textLength="25.8" lengthAdjust="spacingAndGlyphs">6.96%</text><text y="8.400" textLength="34" lengthAdjust="spacingAndGlyphs">$1.64 M</text></g>
</g>
<path d="M601.3 789.5L601.30 717.00A72.5 72.5 0 0 1 673.78 787.63z" fill="#2ba856"/>
<path d="M601.3 789.5L673.78 787.63A72.5 72.5 0 0 1 645.41 847.04z" fill="#e1ab8b"/>
<path d="M601.3 789.5L645.41 847.04A72.5 72.5 0 0 1 589.55 861.04z" fill="#2ab4e2"/>
<path d="M601.3 789.5L589.55 861.04A72.5 72.5 0 0 1 545.18 835.40z" fill="#2ec95e"/>
<path d="M601.3 789.5L545.18 835.40A72.5 72.5 0 0 1 529.08 795.91z" fill="#e07b3c"/>
<path d="M601.3 789.5L529.08 795.91A72.5 72.5 0 0 1 533.82 762.98z" fill="#2898bd"/>
<path d="M601.3 789.5L533.82 762.98A72.5 72.5 0 0 1 545.73 742.94z" fill="#d49ee2"/>
<path d="M601.3 789.5L545.73 742.94A72.5 72.5 0 0 1 562.07 728.53z" fill="#d95e5e"/>
<path d="M601.3 789.5L562.07 728.53A72.5 72.5 0 0 1 581.51 719.75z" fill="#e0a9a9"/>
<path d="M601.3 789.5L581.51 719.75A72.5 72.5 0 0 1 601.30 717.00z" fill="#9a2bb9"/>
<g fill="#eef3ee" font-size="10" text-anchor="middle">
<g transform="translate(636.2 753.7) rotate(-45.7)"><text y="-1.600" textLength="30.0" lengthAdjust="spacingAndGlyphs">24.59%</text><text y="8.400" textLength="34" lengthAdjust="spacingAndGlyphs">$5.37 M</text></g>
<g transform="translate(558.3 764.0) rotate(30.7)"><text y="-1.600" textLength="25.8" lengthAdjust="spacingAndGlyphs">5.14%</text><text y="8.400" textLength="34" lengthAdjust="spacingAndGlyphs">$1.62 M</text></g>
</g>
<circle cx="937.3" cy="412.0" r="3.600" fill="#2ba856"/>
<text x="947.2" y="415.6" font-size="10.300" textLength="91.9" lengthAdjust="spacingAndGlyphs" fill="#6b7471">Karlsburger Kitchens</text>
<circle cx="1071.5" cy="412.0" r="3.600" fill="#e1ab8b"/>
<text x="1081.4" y="415.6" font-size="10.300" textLength="26.1" lengthAdjust="spacingAndGlyphs" fill="#6b7471">Pacful</text>
<circle cx="1144.0" cy="412.0" r="3.600" fill="#2ab4e2"/>
<text x="1154.3" y="415.6" font-size="10.300" textLength="63.2" lengthAdjust="spacingAndGlyphs" fill="#6b7471">Prinova US Llc</text>
<circle cx="1251.0" cy="412.0" r="3.600" fill="#2ec95e"/>
<text x="1261.0" y="415.6" font-size="10.300" textLength="50.7" lengthAdjust="spacingAndGlyphs" fill="#6b7471">Gelnex, Inc.</text>
<circle cx="937.3" cy="431.1" r="3.600" fill="#e07b3c"/>
<text x="947.2" y="434.7" font-size="10.300" textLength="119.8" lengthAdjust="spacingAndGlyphs" fill="#6b7471">Fortis Solutions Group, LLC</text>
<circle cx="1098.0" cy="431.1" r="3.600" fill="#2898bd"/>
<text x="1108.3" y="434.7" font-size="10.300" textLength="72.8" lengthAdjust="spacingAndGlyphs" fill="#6b7471">IPMF / Naturpak</text>
<circle cx="329.5" cy="685.5" r="3.600" fill="#2ba856"/>
<circle cx="376.8" cy="685.5" r="3.600" fill="#e1ab8b"/>
<text x="387.1" y="689.1" font-size="10.300" textLength="36.0" lengthAdjust="spacingAndGlyphs" fill="#6b7471">31-0003</text>
<circle cx="459.1" cy="685.5" r="3.600" fill="#2ab4e2"/>
<text x="469.4" y="689.1" font-size="10.300" textLength="35.6" lengthAdjust="spacingAndGlyphs" fill="#6b7471">78-0001</text>
<circle cx="541.2" cy="685.5" r="3.600" fill="#2ec95e"/>
<text x="551.5" y="689.1" font-size="10.300" textLength="36.0" lengthAdjust="spacingAndGlyphs" fill="#6b7471">31-0002</text>
<circle cx="623.3" cy="685.5" r="3.600" fill="#e07b3c"/>
<text x="634.0" y="689.1" font-size="10.300" textLength="35.6" lengthAdjust="spacingAndGlyphs" fill="#6b7471">78-0004</text>
<circle cx="705.8" cy="685.5" r="3.600" fill="#2898bd"/>
<text x="716.2" y="689.1" font-size="10.300" textLength="81.2" lengthAdjust="spacingAndGlyphs" fill="#6b7471">P0-0001-01-RY-01</text>
<circle cx="329.5" cy="704.3" r="3.600" fill="#d49ee2"/>
<text x="339.6" y="707.9" font-size="10.300" textLength="89.6" lengthAdjust="spacingAndGlyphs" fill="#6b7471">T-BPPOUCH-BEEF12</text>
<circle cx="462.5" cy="704.3" r="3.600" fill="#d95e5e"/>
<text x="473.0" y="707.9" font-size="10.300" textLength="35.6" lengthAdjust="spacingAndGlyphs" fill="#6b7471">LB-0005</text>
<circle cx="544.4" cy="704.3" r="3.600" fill="#e0a9a9"/>
<text x="554.6" y="707.9" font-size="10.300" textLength="36.1" lengthAdjust="spacingAndGlyphs" fill="#6b7471">LB-0015</text>
<circle cx="626.4" cy="704.3" r="3.600" fill="#9a2bb9"/>
<text x="636.6" y="707.9" font-size="10.300" textLength="35.7" lengthAdjust="spacingAndGlyphs" fill="#6b7471">31-0001</text>
<path d="M1448.300 416.600h10l-5-8.800z" fill="#8d9290"/><path d="M1474.800 407.800h10l-5 8.800z" fill="#21a94e"/>
<text x="1460.700" y="415.500" font-size="10.500" textLength="12.900" fill="#6b7471">1/2</text>
<path d="M840.500 690h10l-5-8.800z" fill="#8d9290"/><path d="M866.700 681.200h10l-5 8.800z" fill="#8d9290"/>
<text x="852.900" y="689" font-size="10.500" textLength="12.300" fill="#6b7471">1/1</text>
<g stroke="#ced2d0" stroke-width="1"><path d="M977.200 681.500H1496.600M977.200 714.700H1496.600M977.200 747.700H1496.600"/></g>
<g fill="#3d6b5e" font-size="10.500" text-anchor="middle"><text x="961.300" y="684.400">0</text><text x="961.300" y="718.600" textLength="14.200">-50</text><text x="961.300" y="751.400" textLength="19.600">-100</text></g>
<text transform="translate(931 748.500) rotate(-90)" text-anchor="middle" font-size="11.500" textLength="112" fill="#3d6b5e">Days paid early or late</text>
<polyline fill="none" stroke="#22a94f" stroke-width="1" points="981.0,682.3 988.8,682.4 996.5,682.5 1004.3,682.7 1012.1,682.8 1019.9,682.9 1027.6,683.0 1035.4,683.2 1043.2,683.3 1050.9,683.4 1058.7,683.5 1066.5,683.7 1074.2,683.8 1082.0,683.9 1089.8,684.0 1097.5,684.2 1105.3,684.3 1113.1,684.5 1120.9,684.6 1128.6,684.8 1136.4,684.9 1144.2,685.1 1151.9,685.2 1159.7,685.4 1167.5,685.5 1175.2,685.7 1183.0,685.8 1190.8,686.0 1198.6,686.1 1206.3,686.3 1214.1,686.5 1221.9,686.7 1229.6,686.9 1237.4,687.2 1245.2,687.4 1253.0,687.6 1260.7,687.9 1268.5,688.1 1276.3,688.3 1284.0,688.6 1291.8,688.8 1299.6,689.0 1307.3,689.5 1315.1,689.9 1322.9,690.3 1330.7,690.8 1338.4,691.2 1346.2,691.7 1354.0,693.3 1361.7,696.7 1369.5,696.8 1377.3,697.1 1385.0,699.7 1392.8,701.0 1400.6,701.8 1408.3,703.0 1416.1,706.4 1423.9,708.2 1431.7,714.6 1439.4,719.6 1447.2,724.8 1455.0,732.1 1462.7,741.7"/>
<polyline fill="none" stroke="#22a94f" stroke-width="2" points="1462.7,741.7 1470.5,775.0"/>
<g fill="#22a94f"><circle cx="981.0" cy="682.3" r="2.100"/><circle cx="988.8" cy="682.4" r="2.100"/><circle cx="996.5" cy="682.5" r="2.100"/><circle cx="1004.3" cy="682.7" r="2.100"/><circle cx="1012.1" cy="682.8" r="2.100"/><circle cx="1019.9" cy="682.9" r="2.100"/><circle cx="1027.6" cy="683.0" r="2.100"/><circle cx="1035.4" cy="683.2" r="2.100"/><circle cx="1043.2" cy="683.3" r="2.100"/><circle cx="1050.9" cy="683.4" r="2.100"/><circle cx="1058.7" cy="683.5" r="2.100"/><circle cx="1066.5" cy="683.7" r="2.100"/><circle cx="1074.2" cy="683.8" r="2.100"/><circle cx="1082.0" cy="683.9" r="2.100"/><circle cx="1089.8" cy="684.0" r="2.100"/><circle cx="1097.5" cy="684.2" r="2.100"/><circle cx="1105.3" cy="684.3" r="2.100"/><circle cx="1113.1" cy="684.5" r="2.100"/><circle cx="1120.9" cy="684.6" r="2.100"/><circle cx="1128.6" cy="684.8" r="2.100"/><circle cx="1136.4" cy="684.9" r="2.100"/><circle cx="1144.2" cy="685.1" r="2.100"/><circle cx="1151.9" cy="685.2" r="2.100"/><circle cx="1159.7" cy="685.4" r="2.100"/><circle cx="1167.5" cy="685.5" r="2.100"/><circle cx="1175.2" cy="685.7" r="2.100"/><circle cx="1183.0" cy="685.8" r="2.100"/><circle cx="1190.8" cy="686.0" r="2.100"/><circle cx="1198.6" cy="686.1" r="2.100"/><circle cx="1206.3" cy="686.3" r="2.100"/><circle cx="1214.1" cy="686.5" r="2.100"/><circle cx="1221.9" cy="686.7" r="2.100"/><circle cx="1229.6" cy="686.9" r="2.100"/><circle cx="1237.4" cy="687.2" r="2.100"/><circle cx="1245.2" cy="687.4" r="2.100"/><circle cx="1253.0" cy="687.6" r="2.100"/><circle cx="1260.7" cy="687.9" r="2.100"/><circle cx="1268.5" cy="688.1" r="2.100"/><circle cx="1276.3" cy="688.3" r="2.100"/><circle cx="1284.0" cy="688.6" r="2.100"/><circle cx="1291.8" cy="688.8" r="2.100"/><circle cx="1299.6" cy="689.0" r="2.100"/><circle cx="1307.3" cy="689.5" r="2.100"/><circle cx="1315.1" cy="689.9" r="2.100"/><circle cx="1322.9" cy="690.3" r="2.100"/><circle cx="1330.7" cy="690.8" r="2.100"/><circle cx="1338.4" cy="691.2" r="2.100"/><circle cx="1346.2" cy="691.7" r="2.100"/><circle cx="1354.0" cy="693.3" r="2.100"/><circle cx="1361.7" cy="696.7" r="2.100"/><circle cx="1369.5" cy="696.8" r="2.100"/><circle cx="1377.3" cy="697.1" r="2.100"/><circle cx="1385.0" cy="699.7" r="2.100"/><circle cx="1392.8" cy="701.0" r="2.100"/><circle cx="1400.6" cy="701.8" r="2.100"/><circle cx="1408.3" cy="703.0" r="2.100"/><circle cx="1416.1" cy="706.4" r="2.100"/><circle cx="1423.9" cy="708.2" r="2.100"/><circle cx="1431.7" cy="714.6" r="2.100"/><circle cx="1439.4" cy="719.6" r="2.100"/><circle cx="1447.2" cy="724.8" r="2.100"/><circle cx="1455.0" cy="732.1" r="2.100"/><circle cx="1462.7" cy="741.7" r="2.100"/></g>
<g stroke="#43a08a" fill="none" stroke-width="1"><circle cx="1089.5" cy="346.0" r="5.300"/><path d="M1089.5 345.4v3.400" stroke-linecap="round" stroke-width="1.100"/></g><circle cx="1089.5" cy="343.4" r=".700" fill="#43a08a"/>
<g stroke="#43a08a" fill="none" stroke-width="1"><circle cx="1494.0" cy="346.0" r="5.300"/><path d="M1494.0 345.4v3.400" stroke-linecap="round" stroke-width="1.100"/></g><circle cx="1494.0" cy="343.4" r=".700" fill="#43a08a"/>
<g stroke="#43a08a" fill="none" stroke-width="1"><circle cx="884.0" cy="617.6" r="5.300"/><path d="M884.0 617.0v3.400" stroke-linecap="round" stroke-width="1.100"/></g><circle cx="884.0" cy="615.0" r=".700" fill="#43a08a"/>
<g stroke="#43a08a" fill="none" stroke-width="1"><circle cx="1492.0" cy="617.6" r="5.300"/><path d="M1492.0 617.0v3.400" stroke-linecap="round" stroke-width="1.100"/></g><circle cx="1492.0" cy="615.0" r=".700" fill="#43a08a"/>
<path d="M1503.5 228.2v3.800h-3.800" fill="none" stroke="#7f8482" stroke-width="1.100"/>
<path d="M695.0 347.5v3.800h-3.800" fill="none" stroke="#7f8482" stroke-width="1.100"/>
<path d="M1100.0 347.5v3.800h-3.800" fill="none" stroke="#7f8482" stroke-width="1.100"/>
<path d="M1504.5 347.5v3.800h-3.800" fill="none" stroke="#7f8482" stroke-width="1.100"/>
<path d="M896.5 622.8v3.800h-3.800" fill="none" stroke="#7f8482" stroke-width="1.100"/>
<path d="M1504.5 622.8v3.800h-3.800" fill="none" stroke="#7f8482" stroke-width="1.100"/>
</svg>

<!-- ===== scrollbars, feedback tab, assistant bubble ===== -->
<div class="a" style="left:1520px;top:126px;width:4px;height:635px;background:#b6bbb9"></div>
<div class="a" style="left:1520px;top:126px;width:4px;height:440.500px;background:#7e8482;border-radius:2px 2px 2px 2px"></div>
<div class="a" style="left:1524px;top:48px;width:4px;height:713px;background:#b9bebc"></div>
<div class="a" style="left:1524px;top:48px;width:4px;height:682.500px;background:#7e8482;border-radius:2px"></div>
<div class="a" style="left:1510.300px;top:455.400px;width:24px;height:80px;background:#fdfefd;border:1.200px solid #5cc27c;border-radius:5px 0 0 5px"></div>
<div class="a" style="left:1510.300px;top:455.400px;width:17.700px;height:80px;overflow:hidden"><span class="t" style="left:10.600px;top:40.500px;font-size:10.500px;letter-spacing:1.900px;color:#4cb66e;transform:translate(-50%,-50%) rotate(90deg)">Feedback</span></div>
<svg style="left:1420px;top:685px" width="76" height="76" viewBox="1420 685 76 76" fill="none">
  <defs><filter id="bsh" x="-40%" y="-40%" width="180%" height="180%"><feGaussianBlur stdDeviation="6"/></filter></defs>
  <circle cx="1457.600" cy="722" r="27" fill="#000" opacity=".1" filter="url(#bsh)"/>
  <circle cx="1457.600" cy="718.300" r="23.500" fill="#e2e6e4" stroke="#d0d4d2" stroke-width="3"/>
  <path d="M1450 706.700c-3.600-.2-7.400 2.600-7.400 6.200 0 2.800 2.600 5 6.400 5.300z" fill="#1f5a4c"/>
  <path d="M1459 708.200c-3.600-.2-7.400 2.600-7.400 6.200 0 2.800 2.600 5 6.400 5.300z" fill="#1f5a4c"/>
  <path d="M1453.400 727.200l15.200-6.400c1.400 8.200-8.600 14-15.200 6.400z" fill="#22c55e"/>
</svg>

<!-- ===== Tab Widget dialog ===== -->
<div class="a" style="left:554px;top:76px;width:420px;height:294px;background:#fff;border:5px solid #fb7f25;box-shadow:0 9px 28px rgba(0,0,0,.36)"></div>
<span class="t" style="left:574.68px;top:101.00px;font-size:10.600px;font-weight:700;color:#17191c;font-family:'DejaVu Sans', 'Liberation Sans', sans-serif;letter-spacing:0.304px">Tab Widget</span>
<svg style="left:944px;top:95px" width="14" height="14" viewBox="944 95 14 14"><path d="M945.400 96.600l9.600 9.600M955 96.600l-9.600 9.600" stroke="#1d2024" stroke-width="1.300" stroke-linecap="round"/></svg>
<span class="t" style="left:574.71px;top:143.00px;font-size:9.800px;color:#2b2f34;font-family:'DejaVu Sans', 'Liberation Sans', sans-serif;letter-spacing:0.927px">Group Name</span>
<div class="a" style="left:658px;top:134px;width:294.300px;height:25.400px;border:1px solid #e6e8e7;border-radius:6px;box-shadow:0 1px 2px rgba(0,0,0,.03)"></div>
<span class="t" style="left:667.21px;top:143.00px;font-size:9.800px;color:#4a6650;font-family:'DejaVu Sans', 'Liberation Sans', sans-serif;letter-spacing:0.295px">Container 1</span>
<span class="t" style="left:574.71px;top:189.50px;font-size:9.800px;color:#2b2f34;font-family:'DejaVu Sans', 'Liberation Sans', sans-serif;letter-spacing:0.856px">Show Group Name</span>
<div class="a" style="left:690.900px;top:187.800px;width:22.400px;height:12.700px;border-radius:7px;background:#15a93c"></div>
<div class="a" style="left:702.200px;top:189.100px;width:10px;height:10px;border-radius:5px;background:#fff"></div>

<div class="a" style="left:887px;top:217px;width:74px;height:86px;border:5px solid #fb7f25"></div>
<svg style="left:576px;top:232px" width="16" height="60" viewBox="576 232 16 60" fill="#a9afbb">
  <circle cx="580.6" cy="236.7" r="1"/><circle cx="584.7" cy="236.7" r="1"/><circle cx="588.8" cy="236.7" r="1"/><circle cx="580.6" cy="240.7" r="1"/><circle cx="584.7" cy="240.7" r="1"/><circle cx="588.8" cy="240.7" r="1"/><circle cx="580.6" cy="244.7" r="1"/><circle cx="584.7" cy="244.7" r="1"/><circle cx="588.8" cy="244.7" r="1"/><circle cx="580.6" cy="274.9" r="1"/><circle cx="584.7" cy="274.9" r="1"/><circle cx="588.8" cy="274.9" r="1"/><circle cx="580.6" cy="278.9" r="1"/><circle cx="584.7" cy="278.9" r="1"/><circle cx="588.8" cy="278.9" r="1"/><circle cx="580.6" cy="282.9" r="1"/><circle cx="584.7" cy="282.9" r="1"/><circle cx="588.8" cy="282.9" r="1"/>
</svg>
<div class="a" style="left:607.300px;top:228.200px;width:274.600px;height:25.200px;border:1px solid #e6e8e7;border-radius:6px;box-shadow:0 1px 2px rgba(0,0,0,.03)"></div>
<div class="a" style="left:607.300px;top:266.400px;width:274.600px;height:25.200px;border:1px solid #e6e8e7;border-radius:6px;box-shadow:0 1px 2px rgba(0,0,0,.03)"></div>
<span class="t" style="left:616.31px;top:236.70px;font-size:9.800px;color:#3f5646;font-family:'DejaVu Sans', 'Liberation Sans', sans-serif;letter-spacing:0.287px">Tab 1</span>
<span class="t" style="left:616.31px;top:274.90px;font-size:9.800px;color:#3f5646;font-family:'DejaVu Sans', 'Liberation Sans', sans-serif;letter-spacing:0.812px">Tab 2</span>
<div class="a" style="left:894.500px;top:228px;width:25.700px;height:25.600px;border:1px solid #dbe6fb;border-radius:4px"></div>
<div class="a" style="left:926.500px;top:228px;width:25.700px;height:25.600px;border:1px solid #dbe6fb;border-radius:4px"></div>
<div class="a" style="left:894.500px;top:266.200px;width:25.700px;height:25.600px;border:1px solid #dbe6fb;border-radius:4px"></div>
<div class="a" style="left:926.500px;top:266.200px;width:25.700px;height:25.600px;border:1px solid #dbe6fb;border-radius:4px"></div>
<span class="t" style="left:907.40px;transform:translateX(-50%);top:236.80px;font-size:8.500px;font-weight:700;color:#26282c">+</span>
<span class="t" style="left:939.30px;transform:translateX(-50%);top:237.00px;font-size:9px;color:#a9bdf3">-</span>
<span class="t" style="left:907.40px;transform:translateX(-50%);top:275.00px;font-size:8.500px;font-weight:700;color:#26282c">+</span>
<span class="t" style="left:939.30px;transform:translateX(-50%);top:275.20px;font-size:9px;color:#a9bdf3">-</span>
<div class="btn" style="left:832.500px;top:324px;width:62px;height:25.200px;border:1px solid #e6e8e7;background:#fff;box-shadow:0 1px 3px rgba(0,0,0,.06)"></div>
<span class="t" style="left:845.21px;top:332.80px;font-size:9.800px;color:#3f5646;font-family:'DejaVu Sans', 'Liberation Sans', sans-serif;letter-spacing:0.776px">Cancel</span>
<div class="btn" style="left:904.400px;top:324px;width:48px;height:25.200px;background:#0fa83a;box-shadow:0 1px 3px rgba(0,0,0,.12)"></div>
<span class="t" style="left:917.31px;top:332.80px;font-size:9.800px;color:#fff;font-family:'DejaVu Sans', 'Liberation Sans', sans-serif;letter-spacing:1.608px;-webkit-text-stroke:.15px">Add</span>

</body>
</html>
